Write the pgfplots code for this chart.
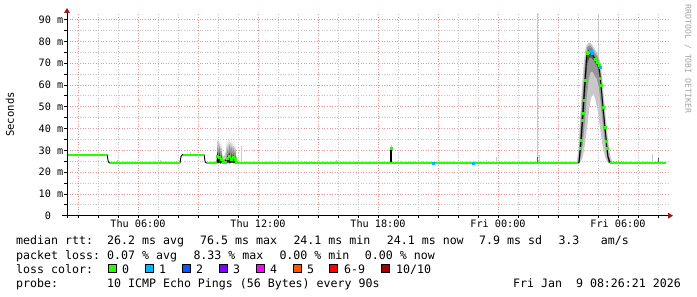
\documentclass[border=0pt]{standalone}
\usepackage{fontspec}
\usepackage{pgfplots}
\pgfplotsset{compat=1.18}
\newfontfamily\mono{DejaVu Sans Mono}
\definecolor{lc0}{HTML}{26FF00}
\definecolor{lc1}{HTML}{00B8FF}
\definecolor{lc2}{HTML}{0059FF}
\definecolor{lc3}{HTML}{7E00FF}
\definecolor{lc4}{HTML}{FF00FF}
\definecolor{lc5}{HTML}{FF5500}
\definecolor{lc6}{HTML}{FF0000}
\definecolor{lc10}{HTML}{A10000}
\definecolor{arrowred}{HTML}{9B1B1B}
\definecolor{mgrid}{RGB}{222,150,150}
\definecolor{ngrid}{RGB}{195,195,195}
\definecolor{smokeL}{RGB}{200,200,200}
\definecolor{smokeM}{RGB}{150,150,150}
\definecolor{smokeD}{RGB}{85,85,85}
\definecolor{wmark}{RGB}{165,165,165}
\newcommand{\lfont}{\mono\fontsize{11.6}{13}\selectfont}
\begin{document}
\begin{tikzpicture}
\fill[white] (0pt,0pt) rectangle (697pt,297pt);
\useasboundingbox (0pt,0pt) rectangle (697pt,297pt);
\begin{axis}[
  at={(67pt,81.3pt)}, anchor=south west,
  scale only axis, width=601pt, height=202.7pt,
  xmin=2.45, xmax=32.5, ymin=0, ymax=93,
  clip=false,
  axis line style={draw=none},
  xtick={3,6,...,30},
  xticklabels={,Thu 06:00,,Thu 12:00,,Thu 18:00,,Fri 00:00,,Fri 06:00},
  minor xtick={4,5,7,8,10,11,13,14,16,17,19,20,22,23,25,26,28,29,31,32},
  ytick={0,10,...,90},
  yticklabels={0\phantom{\ m},10 m,20 m,30 m,40 m,50 m,60 m,70 m,80 m,90 m},
  minor ytick={5,15,...,85},
  grid=both,
  major grid style={mgrid, line width=0.8pt, dash pattern=on 1pt off 1.6pt},
  minor grid style={ngrid, line width=0.8pt, dash pattern=on 1pt off 1.6pt},
  xtick pos=bottom, ytick pos=left,
  tick align=outside,
  major tick length=2.5pt, minor tick length=2.5pt,
  every tick/.style={black, line width=0.7pt},
  xticklabel style={font=\mono\fontsize{10.2}{12}\selectfont, inner sep=0pt, anchor=north, yshift=-1pt},
  yticklabel style={font=\mono\fontsize{10.2}{12}\selectfont, inner sep=0pt, anchor=east, xshift=-1pt},
]
% --- smoke: light spikes
\addplot[smokeL, line width=1pt, unbounded coords=jump] coordinates {
 (25.95,24.2)(25.95,93)(25.95,nan)
 (29.0,60)(29.0,92.5)(29.0,nan)
 (11.15,24.2)(11.15,32)(11.15,nan)
 (18.65,29)(18.65,32.4)(18.65,nan)
 (4.95,24.2)(4.95,25.4)(4.95,nan)
 (7.1,24.2)(7.1,25.6)(7.1,nan)
 (7.35,24.2)(7.35,25.3)(7.35,nan)
 (8.6,28)(8.6,29.3)(8.6,nan)
 (23.93,24.2)(23.93,26.8)(23.93,nan)
 (23.4,24.2)(23.4,25.5)(23.4,nan)
 (31.7,24.2)(31.7,28.3)(31.7,nan)
 (32.0,24.2)(32.0,26.8)(32.0,nan)
 (15.9,24.2)(15.9,25.4)(15.9,nan)
 (26.05,24.2)(26.05,28)(26.05,nan)
};
\addplot[smokeL, line width=1.8pt] coordinates {(25.97,24.2)(25.97,34.7)};
\addplot[smokeD, line width=1.2pt] coordinates {(25.97,24.2)(25.97,27)};
\addplot[smokeD, line width=1pt] coordinates {(32.02,24.2)(32.02,26.5)};
% --- noisy region smoke
\addplot[fill=smokeL, draw=none] coordinates {
 (9.93,24.2)(9.96,35.5)(10.0,33)(10.05,35.5)(10.1,30)(10.15,34)(10.2,28)(10.3,27)(10.4,29.5)
 (10.45,34.5)(10.5,31)(10.55,35.5)(10.6,32)(10.65,35)(10.7,31)(10.75,34)(10.8,30)(10.85,33)(10.9,28)(10.97,24.2)} -- cycle;
\addplot[fill=smokeM, draw=none] coordinates {
 (9.94,24.2)(9.97,32)(10.02,30)(10.06,33)(10.12,29)(10.16,31)(10.22,25.5)(10.4,26)(10.46,31)(10.52,29)
 (10.56,33)(10.62,30)(10.66,32)(10.72,29)(10.76,31.5)(10.82,28.5)(10.86,30.5)(10.95,24.2)} -- cycle;
\addplot[fill=smokeD, draw=none] coordinates {
 (9.95,24.2)(9.97,29)(10.02,27)(10.07,29.5)(10.12,26.5)(10.17,28)(10.22,24.6)(10.42,24.6)(10.46,28)(10.52,26.5)
 (10.56,29.5)(10.62,27)(10.66,29)(10.72,26.5)(10.76,28.5)(10.82,26)(10.86,27.5)(10.93,24.2)} -- cycle;
% --- peak smoke
\addplot[fill=smokeL, draw=none] coordinates {
 (27.92,24.2)(28.02,30)(28.08,40)(28.18,56)(28.28,69)(28.38,77)(28.5,79)(28.6,79.5)(28.7,78.5)(28.8,77)
 (28.9,75.5)(29.0,74)(29.1,71)(29.2,64)(29.3,54)(29.4,44)(29.5,35)(29.6,28)(29.72,24.2)
 (29.55,24.2)(29.45,24.8)(29.35,27)(29.25,31)(29.15,37)(29.05,44)(28.95,50)(28.85,54)(28.75,56)
 (28.65,54)(28.55,48)(28.45,40)(28.35,33)(28.25,27.5)(28.15,25)(28.05,24.2)} -- cycle;
\addplot[fill=smokeM, draw=none] coordinates {
 (28.0,24.2)(28.08,33)(28.16,46)(28.26,59)(28.36,71)(28.46,77.5)(28.6,78.2)(28.7,77.2)(28.8,75.5)(28.9,74)
 (29.0,72.5)(29.1,68)(29.2,58.5)(29.3,48.5)(29.4,38.5)(29.5,30)(29.62,24.5)
 (29.53,24.2)(29.44,27.5)(29.34,34)(29.24,42)(29.14,51)(29.04,59)(28.94,63)(28.84,64)(28.74,66)
 (28.64,66)(28.54,63)(28.44,55)(28.34,43)(28.24,33)(28.14,27)(28.04,24.2)} -- cycle;
\addplot[fill=smokeD, draw=none] coordinates {
 (28.03,24.5)(28.13,36)(28.21,49)(28.31,61)(28.41,72)(28.5,76)(28.6,76.8)(28.7,75)(28.8,73)(28.9,71.5)
 (29.0,70)(29.1,63)(29.2,53)(29.3,44)(29.4,34.5)(29.5,27)(29.58,24.5)
 (29.54,24.2)(29.46,27.5)(29.37,35.5)(29.27,44.5)(29.17,54.5)(29.07,64)(28.97,68.5)(28.87,70)(28.77,71.5)
 (28.67,72.5)(28.57,72.5)(28.47,70)(28.37,58)(28.27,45)(28.17,32)(28.07,24.2)} -- cycle;
% --- median (black)
\addplot[black, line width=0.9pt] coordinates {
 (2.45,28)(4.45,28)(4.52,24.6)(4.58,24.2)(8.1,24.2)(8.15,27.2)(8.22,28)(9.3,28)(9.36,24.6)(9.42,24.2)
 (9.95,24.2)(9.975,27.5)(10.025,25)(10.075,27)(10.125,24.5)(10.175,26)(10.25,24.2)(10.35,24.5)
 (10.45,26.5)(10.5,25)(10.55,27.5)(10.6,24.5)(10.65,26)(10.7,25)(10.75,27)(10.8,24.5)(10.85,26)
 (10.9,24.5)(10.95,24.2)(28.0,24.2)
 (28.05,24.5)(28.15,34.7)(28.25,47)(28.35,62)(28.45,74.6)(28.55,75.5)(28.65,76.3)(28.75,73.7)
 (28.85,72)(28.95,70.5)(29.05,69)(29.15,60)(29.25,50)(29.35,40.7)(29.45,31)(29.5,27)(29.6,24.5)(32.4,24.2)};
\addplot[black, line width=1.6pt] coordinates {(18.65,24.2)(18.65,30)};
% --- median (loss 0, green)
\addplot[lc0, line width=2.2pt, unbounded coords=jump] coordinates {
 (2.45,28)(4.45,28)(4.45,nan)
 (4.6,24.2)(8.1,24.2)(8.1,nan)
 (8.24,28)(9.3,28)(9.3,nan)
 (9.44,24.2)(9.95,24.2)(9.95,nan)
 (10.97,24.2)(28.0,24.2)(28.0,nan)
 (29.62,24.2)(32.4,24.2)};
\addplot[lc0, only marks, mark=square*, mark size=1pt] coordinates {
 (9.975,27.5)(10.075,27)(10.175,26)(10.25,24.4)(10.35,24.5)(10.45,26.5)(10.55,27.5)(10.65,26)
 (10.75,27)(10.85,26)(10.9,24.5)(18.65,31)
 (28.12,31)(28.15,34.7)(28.22,44)(28.25,47)(28.3,53)(28.35,62)(28.45,74.6)(28.5,75)
 (28.85,72)(28.95,70.5)(29.05,69)(29.12,63)(29.15,60)(29.25,50)(29.35,40.7)(29.42,34)(29.45,31)};
% --- median (loss 1, cyan)
\addplot[lc1, only marks, mark=square*, mark size=1pt] coordinates {
 (28.6,76)(28.65,75.5)(28.7,74.5)(29.1,68.3)(20.75,24.2)(22.75,24.2)};
% --- axes
\draw[black, line width=0.8pt] (axis cs:2.2,0) -- (axis cs:32.5,0);
\fill[arrowred] (axis cs:32.5,0) ++(0pt,3pt) -- ++(5pt,-3pt) -- ++(-5pt,-3pt) -- cycle;
\draw[black, line width=0.8pt] (axis cs:2.45,0) ++(0pt,-2.5pt) -- (axis cs:2.45,93);
\fill[arrowred] (axis cs:2.45,93) ++(-3pt,0pt) -- ++(3pt,5pt) -- ++(3pt,-5pt) -- cycle;
\end{axis}
% --- titles
\node[rotate=90, font=\mono\fontsize{10.6}{12}\selectfont] at (10pt,182.5pt) {Seconds};
\node[rotate=-90, text=wmark, font=\mono\fontsize{8.2}{10}\selectfont] at (688pt,238pt) {RRDTOOL / TOBI OETIKER};
% --- legend text
\begin{scope}[every node/.style={anchor=base west, inner sep=0pt, font=\lfont}]
\node at (16pt,52pt) {median rtt:};
\node at (107pt,52pt) {26.2 ms avg};
\node at (200pt,52pt) {76.5 ms max};
\node at (293.3pt,52pt) {24.1 ms min};
\node at (386.7pt,52pt) {24.1 ms now};
\node at (479pt,52pt) {7.9 ms sd};
\node at (558.3pt,52pt) {3.3};
\node at (600.7pt,52pt) {am/s};
\node at (16pt,37.7pt) {packet loss:};
\node at (107pt,37.7pt) {0.07 \% avg};
\node at (193.3pt,37.7pt) {8.33 \% max};
\node at (279.3pt,37.7pt) {0.00 \% min};
\node at (364.7pt,37.7pt) {0.00 \% now};
\node at (16pt,23.4pt) {loss color:};
\node at (122pt,23.4pt) {0};
\node at (159pt,23.4pt) {1};
\node at (196pt,23.4pt) {2};
\node at (233pt,23.4pt) {3};
\node at (270pt,23.4pt) {4};
\node at (307pt,23.4pt) {5};
\node at (344pt,23.4pt) {6-9};
\node at (396pt,23.4pt) {10/10};
\node at (16pt,9.1pt) {probe:};
\node at (107pt,9.1pt) {10 ICMP Echo Pings (56 Bytes) every 90s};
\node at (513pt,9.1pt) {Fri Jan\ \ 9 08:26:21 2026};
\end{scope}
\begin{scope}[every node/.style={draw=black, line width=0.7pt, minimum size=8pt, inner sep=0pt, anchor=center}]
\node[fill=lc0] at (112.7pt,28.3pt) {};
\node[fill=lc1] at (149.5pt,28.3pt) {};
\node[fill=lc2] at (186.2pt,28.3pt) {};
\node[fill=lc3] at (223pt,28.3pt) {};
\node[fill=lc4] at (260pt,28.3pt) {};
\node[fill=lc5] at (297pt,28.3pt) {};
\node[fill=lc6] at (333.5pt,28.3pt) {};
\node[fill=lc10] at (385.5pt,28.3pt) {};
\end{scope}
\end{tikzpicture}
\end{document}
